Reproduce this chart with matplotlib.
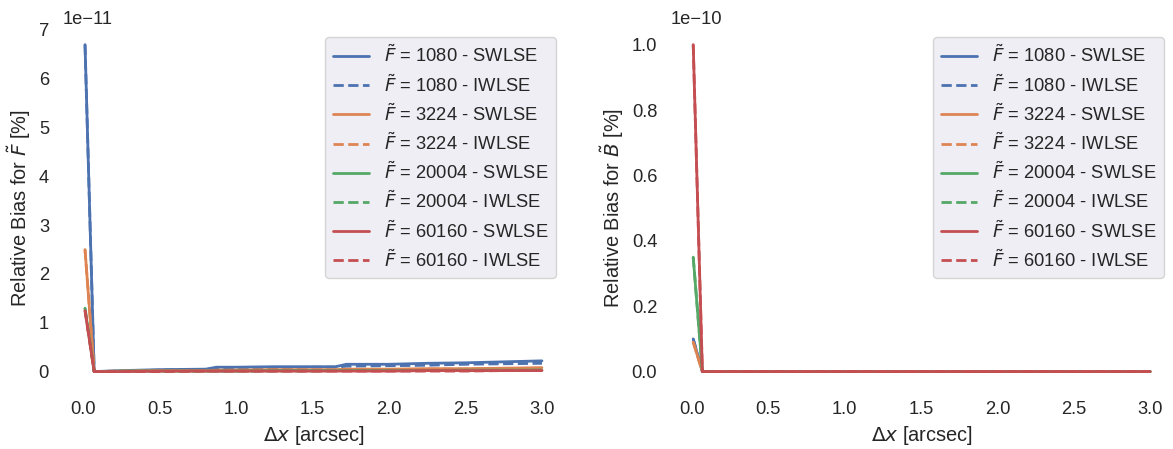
import numpy as np
import matplotlib
matplotlib.use('Agg')
import matplotlib.pyplot as plt
import seaborn as sns

sns.set_theme(style='dark', font_scale=1.2)
plt.rcParams['font.family'] = ['Liberation Sans', 'DejaVu Sans']
plt.rcParams['axes.facecolor'] = 'white'

# positional offsets [arcsec]
dx = [0.01, 0.07, 0.25, 0.5, 0.8, 0.87, 1.0, 1.25, 1.5, 1.65, 1.72, 2.0, 2.25, 2.5, 2.75, 3.0]
fluxes = [1080, 3224, 20004, 60160]

# relative bias for F (units of 1e-11 %)
biasF_sw = {
    1080: [6.7, 0.0, 0.02, 0.04, 0.05, 0.09, 0.09, 0.10, 0.10, 0.10, 0.15, 0.15, 0.17, 0.18, 0.20, 0.22],
    3224: [2.5, 0.0, 0.01, 0.02, 0.02, 0.03, 0.03, 0.04, 0.04, 0.04, 0.05, 0.05, 0.06, 0.06, 0.07, 0.08],
    20004: [1.3, 0.0, 0.01, 0.01, 0.01, 0.01, 0.01, 0.02, 0.02, 0.02, 0.02, 0.02, 0.02, 0.03, 0.03, 0.03],
    60160: [1.25, 0.0, 0.0, 0.01, 0.01, 0.01, 0.01, 0.01, 0.01, 0.01, 0.01, 0.01, 0.02, 0.02, 0.02, 0.02],
}
biasF_iw = {
    1080: [6.7, 0.0, 0.01, 0.03, 0.04, 0.06, 0.07, 0.08, 0.09, 0.09, 0.11, 0.12, 0.13, 0.15, 0.16, 0.17],
    3224: [2.5, 0.0, 0.01, 0.01, 0.02, 0.02, 0.03, 0.03, 0.03, 0.03, 0.04, 0.04, 0.05, 0.05, 0.06, 0.07],
    20004: [1.3, 0.0, 0.0, 0.01, 0.01, 0.01, 0.01, 0.01, 0.01, 0.02, 0.02, 0.02, 0.02, 0.02, 0.02, 0.03],
    60160: [1.25, 0.0, 0.0, 0.0, 0.01, 0.01, 0.01, 0.01, 0.01, 0.01, 0.01, 0.01, 0.01, 0.01, 0.02, 0.02],
}

# relative bias for B (units of 1e-10 %)
biasB_sw = {
    1080: [0.10, 0.0, 0.0, 0.0, 0.0, 0.0, 0.0, 0.0, 0.0, 0.0, 0.0, 0.0, 0.0, 0.0, 0.0, 0.0],
    3224: [0.09, 0.0, 0.0, 0.0, 0.0, 0.0, 0.0, 0.0, 0.0, 0.0, 0.0, 0.0, 0.0, 0.0, 0.0, 0.0],
    20004: [0.35, 0.0, 0.0, 0.0, 0.0, 0.0, 0.0, 0.0, 0.0, 0.0, 0.0, 0.0, 0.0, 0.0, 0.0, 0.0],
    60160: [1.0, 0.0, 0.0, 0.0, 0.0, 0.0, 0.0, 0.0, 0.0, 0.0, 0.0, 0.0, 0.0, 0.0, 0.0, 0.0],
}
biasB_iw = {
    1080: [0.10, 0.0, 0.0, 0.0, 0.0, 0.0, 0.0, 0.0, 0.0, 0.0, 0.0, 0.0, 0.0, 0.0, 0.0, 0.0],
    3224: [0.09, 0.0, 0.0, 0.0, 0.0, 0.0, 0.0, 0.0, 0.0, 0.0, 0.0, 0.0, 0.0, 0.0, 0.0, 0.0],
    20004: [0.35, 0.0, 0.0, 0.0, 0.0, 0.0, 0.0, 0.0, 0.0, 0.0, 0.0, 0.0, 0.0, 0.0, 0.0, 0.0],
    60160: [1.0, 0.0, 0.0, 0.0, 0.0, 0.0, 0.0, 0.0, 0.0, 0.0, 0.0, 0.0, 0.0, 0.0, 0.0, 0.0],
}

colors = sns.color_palette('deep')

fig, axes = plt.subplots(1, 2, figsize=(11.73, 4.49), dpi=100)

for ax, sw, iw, scale, lab in [(axes[0], biasF_sw, biasF_iw, 1e-11, r'Relative Bias for $\tilde{F}$ [%]'),
                               (axes[1], biasB_sw, biasB_iw, 1e-10, r'Relative Bias for $\tilde{B}$ [%]')]:
    for i, f in enumerate(fluxes):
        ax.plot(dx, np.array(sw[f]) * scale, color=colors[i], lw=2,
                label=r'$\tilde{F}$ = %d - SWLSE' % f)
        ax.plot(dx, np.array(iw[f]) * scale, color=colors[i], lw=2, ls='--',
                label=r'$\tilde{F}$ = %d - IWLSE' % f)
    ax.set_xlabel(r'$\Delta x$ [arcsec]')
    ax.set_ylabel(lab)
    ax.set_xticks([0.0, 0.5, 1.0, 1.5, 2.0, 2.5, 3.0])
    for s in ax.spines.values():
        s.set_visible(False)
    leg = ax.legend(loc='upper right', facecolor='#EAEAF2', framealpha=0.8,
                    labelspacing=0.42)

plt.subplots_adjust(left=0.053, right=1.0, bottom=0.136, top=0.937, wspace=0.21)
plt.savefig('out.png')
